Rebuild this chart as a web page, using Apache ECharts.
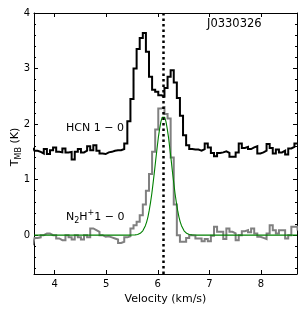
<!DOCTYPE html>
<html><head><meta charset="utf-8">
<script src="https://cdn.jsdelivr.net/npm/echarts@6/dist/echarts.min.js"></script>
<style>html,body{margin:0;padding:0;background:#fff}#c{width:306px;height:312px}</style>
</head><body><div id="c"></div>
<script>
// channel centre velocities (km/s)
const velocity = [
  3.58,3.64,3.70,3.76,3.82,3.88,3.94,4.00,4.06,4.12,
  4.18,4.24,4.30,4.36,4.42,4.48,4.54,4.60,4.66,4.72,
  4.78,4.84,4.90,4.96,5.02,5.08,5.14,5.20,5.26,5.32,
  5.38,5.44,5.50,5.56,5.62,5.68,5.74,5.80,5.86,5.92,
  5.98,6.04,6.10,6.16,6.22,6.28,6.34,6.40,6.46,6.52,
  6.58,6.64,6.70,6.76,6.82,6.88,6.94,7.00,7.06,7.12,
  7.18,7.24,7.30,7.36,7.42,7.48,7.54,7.60,7.66,7.72,
  7.78,7.84,7.90,7.96,8.02,8.08,8.14,8.20,8.26,8.32,
  8.38,8.44,8.50,8.56,8.62,8.68,8.74
];
// HCN 1-0 (offset spectrum, K)
const hcn = [
  1.57,1.52,1.50,1.47,1.55,1.46,1.53,1.58,1.50,1.49,
  1.56,1.49,1.50,1.36,1.50,1.55,1.49,1.52,1.60,1.53,
  1.62,1.52,1.47,1.46,1.49,1.50,1.52,1.53,1.53,1.55,
  1.65,2.05,2.45,3.00,3.35,3.55,3.64,3.30,2.85,2.62,
  2.58,2.52,2.50,2.65,2.85,2.97,2.75,2.47,2.15,1.80,
  1.62,1.55,1.54,1.54,1.52,1.55,1.65,1.58,1.48,1.42,
  1.48,1.49,1.51,1.48,1.41,1.41,1.49,1.65,1.57,1.59,
  1.55,1.58,1.60,1.47,1.49,1.52,1.64,1.57,1.47,1.54,
  1.49,1.52,1.45,1.56,1.59,1.65,1.65
];
// N2H+ 1-0 (K)
const n2h = [
  -0.18,-0.05,-0.04,0.00,0.03,0.03,0.00,0.00,-0.06,-0.09,
  -0.09,0.00,-0.04,-0.08,0.00,-0.04,-0.08,0.00,-0.04,0.12,
  0.09,0.06,0.00,-0.03,-0.02,-0.04,-0.06,-0.08,-0.14,-0.12,
  -0.04,-0.02,0.12,0.18,0.24,0.36,0.55,0.80,1.10,1.50,
  1.90,2.28,2.30,2.18,2.10,1.40,0.55,0.00,-0.12,-0.12,
  -0.05,0.00,-0.01,-0.06,-0.06,-0.11,-0.07,-0.11,-0.01,0.15,
  0.06,0.06,-0.07,0.12,0.06,0.03,-0.09,0.00,0.07,0.09,
  0.05,0.12,0.03,-0.03,-0.05,-0.07,0.03,0.18,0.09,0.03,
  0.09,0.09,-0.06,0.00,0.15,0.15,0.10
];
// Gaussian fit to N2H+
const fitVelocity = [3.6,5.46,5.51,5.56,5.61,5.66,5.71,5.76,5.785,5.81,5.835,5.86,5.885,5.91,5.935,5.96,5.985,6.01,6.035,6.06,6.085,6.11,
  6.135,6.16,6.185,6.21,6.235,6.26,6.285,6.31,6.335,6.36,6.385,6.41,6.435,6.46,6.51,6.56,6.61,6.66,6.71,6.76,8.7];
const fitValue = [0,0,0.001,0.004,0.012,0.032,0.077,0.17,0.24,0.33,0.45,0.59,0.75,0.94,1.14,1.35,1.55,1.75,1.91,2.04,2.12,2.15,
  2.12,2.04,1.91,1.75,1.55,1.35,1.14,0.94,0.75,0.59,0.45,0.33,0.24,0.17,0.077,0.032,0.012,0.004,0.001,0,0];
const vSystemic = 6.1;
const xTicks = [4,5,6,7,8];
const yTicks = [0,1,2,3,4];
const yMinorTicks = [-0.6,-0.4,-0.2,0.2,0.4,0.6,0.8,1.2,1.4,1.6,1.8,2.2,2.4,2.6,2.8,3.2,3.4,3.6,3.8];

const FONT = 'DejaVu Sans';
const chart = echarts.init(document.getElementById('c'), null, {renderer:'canvas'});
const axLine = {show:true, onZero:false, lineStyle:{color:'#000', width:1}};
function yAx(pos, ticks, len, showLine, labels){
  return {
    type:'value', position:pos, min:-0.7, max:4,
    axisLine: showLine ? axLine : {show:false},
    axisTick:{show:true, inside:true, length:len, customValues:ticks, lineStyle:{color:'#000', width:1}},
    axisLabel: labels ? {show:true, customValues:ticks, fontFamily:FONT, fontSize:10, color:'#000', margin:4} : {show:false},
    splitLine:{show:false}
  };
}
const richMain = {fontFamily:FONT, fontSize:11, lineHeight:11, verticalAlign:'top', padding:[3,0,0,0], fill:'#000'};
const richSub = {fontFamily:FONT, fontSize:8, lineHeight:8, verticalAlign:'top', padding:[8,0,0,0], fill:'#000'};
const richSup = {fontFamily:FONT, fontSize:8, lineHeight:8, verticalAlign:'top', padding:[0,0,0,0], fill:'#000'};
chart.setOption({
  animation:false,
  backgroundColor:'#fff',
  grid:{left:34, right:9, top:13, bottom:38, containLabel:false},
  xAxis:[
    {type:'value', position:'bottom', min:3.6, max:8.7,
     axisLine:axLine,
     axisTick:{show:true, inside:true, length:4, customValues:xTicks, lineStyle:{color:'#000'}},
     axisLabel:{show:true, customValues:xTicks, fontFamily:FONT, fontSize:10, color:'#000', margin:5},
     splitLine:{show:false},
     name:'Velocity (km/s)', nameLocation:'middle', nameGap:16,
     nameTextStyle:{fontFamily:FONT, fontSize:11, color:'#000'}},
    {type:'value', position:'top', min:3.6, max:8.7,
     axisLine:axLine,
     axisTick:{show:true, inside:true, length:4, customValues:xTicks, lineStyle:{color:'#000'}},
     axisLabel:{show:false}, splitLine:{show:false}}
  ],
  yAxis:[
    yAx('left', yTicks, 4, true, true),
    yAx('left', yMinorTicks, 2, false, false),
    yAx('right', yTicks, 4, true, false),
    yAx('right', yMinorTicks, 2, false, false)
  ],
  series:[
    {type:'line', name:'HCN', step:'middle', showSymbol:false, symbol:'none', clip:true, z:2,
     data: velocity.map((v,i)=>[v,hcn[i]]),
     lineStyle:{color:'#000', width:2, join:'miter'}},
    {type:'line', name:'N2H+', step:'middle', showSymbol:false, symbol:'none', clip:true, z:3,
     data: velocity.map((v,i)=>[v,n2h[i]]),
     lineStyle:{color:'#808080', width:2, join:'miter'}},
    {type:'line', name:'fit', showSymbol:false, symbol:'none', clip:true, z:4,
     data: fitVelocity.map((v,i)=>[v,fitValue[i]]),
     lineStyle:{color:'#008000', width:1.1},
     markLine:{silent:true, symbol:'none', label:{show:false}, animation:false,
       lineStyle:{color:'#000', width:2.5, type:[2.5,3], cap:'butt'},
       data:[{xAxis:vSystemic}]}}
  ],
  graphic:[
    {type:'text', x:12, y:147, rotation:Math.PI/2, z:10,
     style:{text:'{t|T}{s|MB}{t| (K)}', align:'center', verticalAlign:'middle',
       rich:{t:richMain, s:richSub}}},
    {type:'text', left:207, top:18, z:10, style:{text:'J0330326', fontFamily:FONT, fontSize:11.5, fill:'#000'}},
    {type:'text', left:66, top:123, z:10, style:{text:'HCN 1 \u2212 0', fontFamily:FONT, fontSize:11, fill:'#000'}},
    {type:'text', left:66, top:209, z:10,
     style:{text:'{t|N}{s|2}{t|H}{p|+}{t|1 \u2212 0}', rich:{t:richMain, s:richSub, p:richSup}}}
  ]
});
</script></body></html>
